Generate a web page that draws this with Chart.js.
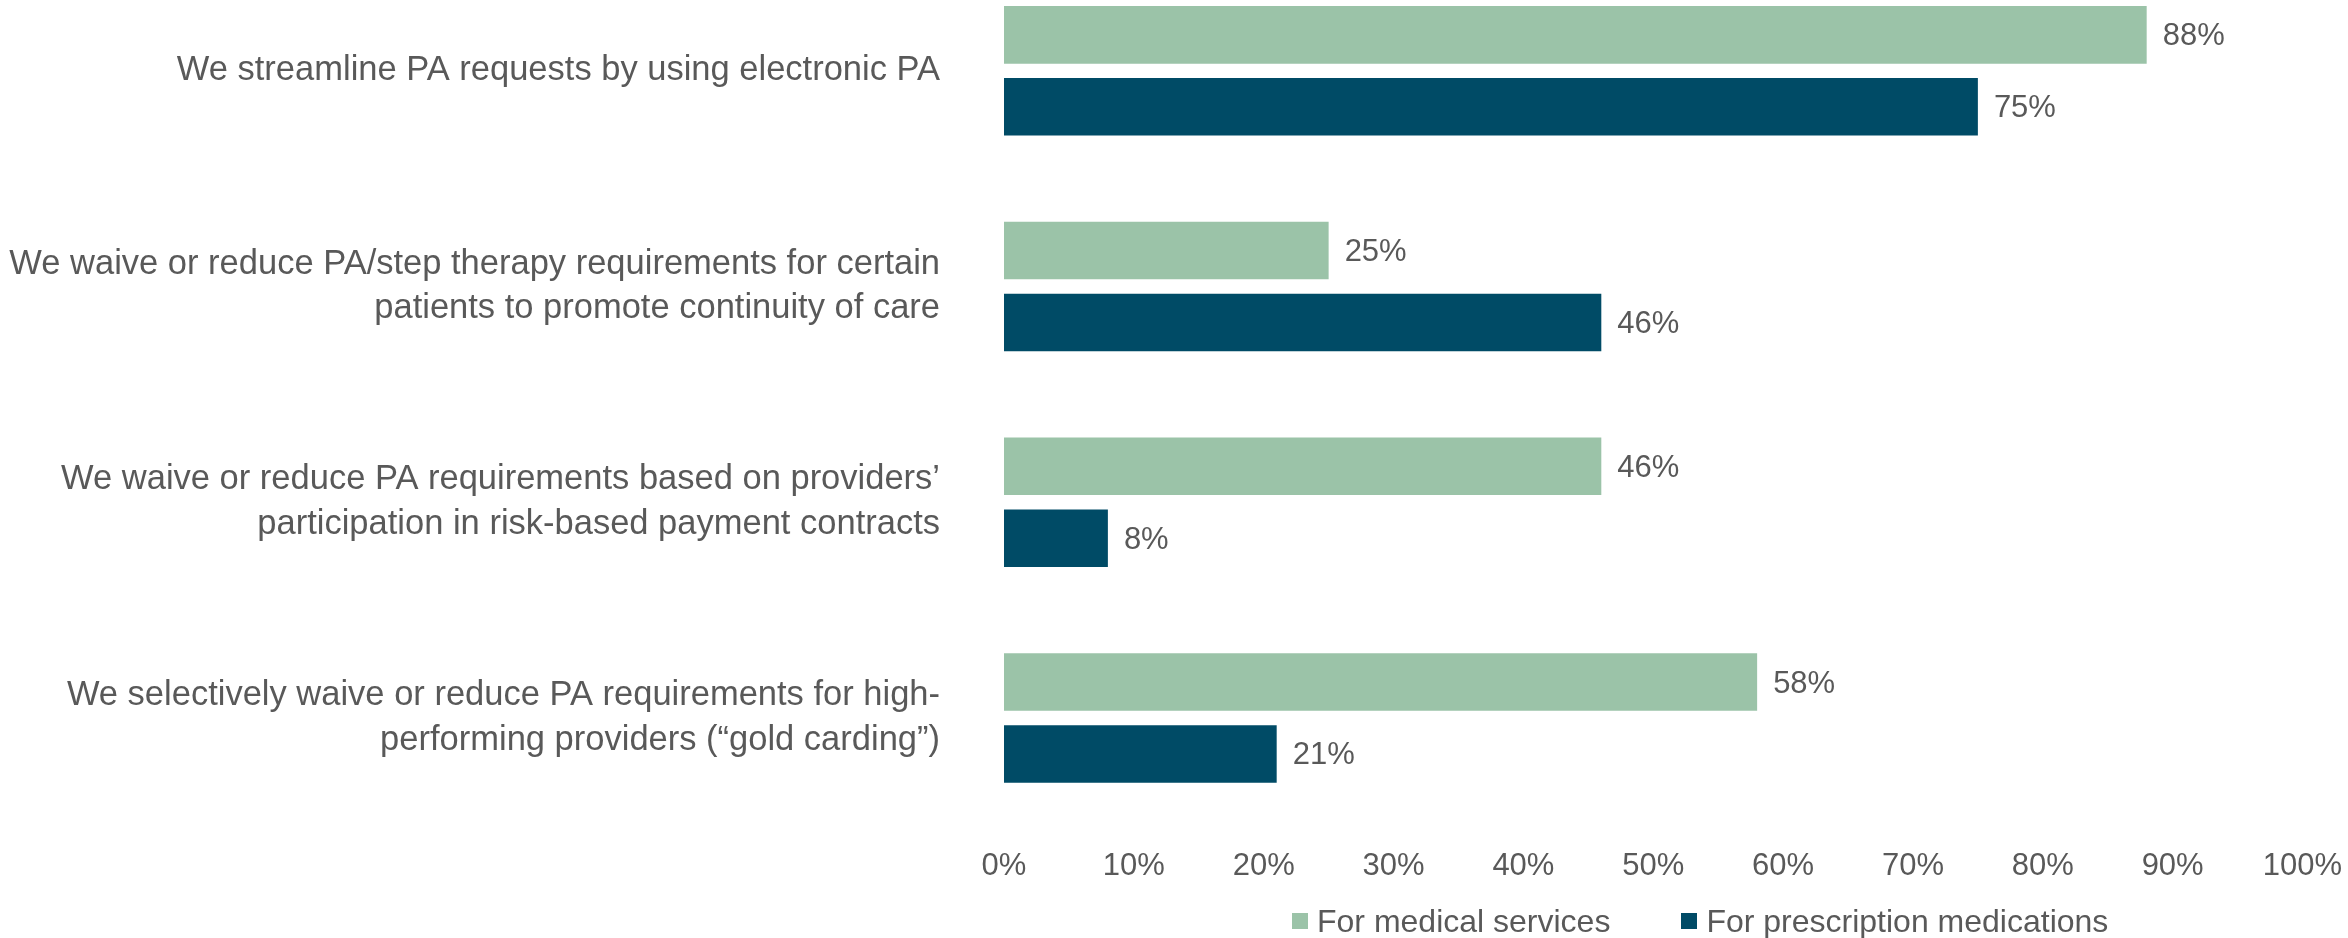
<!DOCTYPE html>
<html>
<head>
<meta charset="utf-8">
<script src="https://cdn.jsdelivr.net/npm/chart.js@4/dist/chart.umd.min.js"></script>
<style>
  html, body { margin: 0; padding: 0; background: #fff; }
  #wrap { position: relative; width: 2348px; height: 938px; overflow: hidden; }
  /* the top band of the category axis runs above the page edge */
  #chart { position: absolute; left: 0; top: -37px; }
  #legend {
    position: absolute; left: 1292px; top: 905px;
    display: flex; align-items: center;
    margin: 0; padding: 0; list-style: none;
    font: 32px "Liberation Sans", Arial, sans-serif; line-height: 32px; color: #595959;
  }
  #legend li { display: flex; align-items: center; white-space: nowrap; }
  #legend li + li { margin-left: 71px; }
  #legend span { display: inline-block; width: 16px; height: 16px; margin-right: 9px; }
</style>
</head>
<body>
<div id="wrap">
  <canvas id="chart" width="2348" height="944"></canvas>
  <ul id="legend"></ul>
</div>
<script>
const categories = [
  ['We streamline PA requests by using electronic PA'],
  ['We waive or reduce PA/step therapy requirements for certain', 'patients to promote continuity of care'],
  ['We waive or reduce PA requirements based on providers’', 'participation in risk-based payment contracts'],
  ['We selectively waive or reduce PA requirements for high-', 'performing providers (“gold carding”)'],
];
const seriesNames = ['For medical services', 'For prescription medications'];
const medical = [88, 25, 46, 58];
const prescription = [75, 46, 8, 21];

const FONT = '"Liberation Sans", Arial, sans-serif';
const GREY = '#595959';

// percent value printed just right of each bar
const barValues = {
  id: 'barValues',
  afterDatasetsDraw(chart) {
    const ctx = chart.ctx;
    ctx.save();
    ctx.font = '31px ' + FONT;
    ctx.fillStyle = GREY;
    ctx.textAlign = 'left';
    ctx.textBaseline = 'middle';
    chart.data.datasets.forEach((ds, i) => {
      chart.getDatasetMeta(i).data.forEach((bar, j) => {
        ctx.fillText(ds.data[j] + '%', bar.x + 16, bar.y + 2);
      });
    });
    ctx.restore();
  }
};

// legend as html list, built from the chart's own legend items
const htmlLegend = {
  id: 'htmlLegend',
  afterUpdate(chart) {
    const ul = document.getElementById('legend');
    ul.innerHTML = '';
    chart.options.plugins.legend.labels.generateLabels(chart).forEach(item => {
      const li = document.createElement('li');
      const box = document.createElement('span');
      box.style.background = item.fillStyle;
      li.appendChild(box);
      li.appendChild(document.createTextNode(item.text));
      ul.appendChild(li);
    });
  }
};

new Chart(document.getElementById('chart'), {
  type: 'bar',
  data: {
    labels: categories,
    datasets: [{
      label: seriesNames[0],
      data: medical,
      backgroundColor: '#9BC3A8',
      categoryPercentage: 0.667,
      barPercentage: 0.8
    }, {
      label: seriesNames[1],
      data: prescription,
      backgroundColor: '#004B66',
      categoryPercentage: 0.667,
      barPercentage: 0.8
    }]
  },
  options: {
    indexAxis: 'y',
    responsive: false,
    devicePixelRatio: 1,
    animation: false,
    layout: { padding: { left: 0, right: 45.5, top: 0, bottom: 0 } },
    plugins: {
      legend: { display: false },
      tooltip: { enabled: false }
    },
    scales: {
      x: {
        min: 0,
        max: 100,
        grid: { display: false, drawTicks: false },
        border: { display: false },
        ticks: {
          stepSize: 10,
          padding: 22,
          color: GREY,
          font: { family: FONT, size: 31 },
          callback: v => v + '%'
        },
        afterFit(scale) { scale.paddingLeft = 0; scale.paddingRight = 0; }
      },
      y: {
        grid: { display: false, drawTicks: false },
        border: { display: false },
        ticks: {
          padding: 64,
          color: GREY,
          font: { family: FONT, size: 34.5, lineHeight: 1.3 }
        },
        afterFit(scale) {
          scale.width = 1004;
          scale.paddingTop = 0;
          scale.paddingBottom = 0;
        }
      }
    }
  },
  plugins: [barValues, htmlLegend]
});
</script>
</body>
</html>
